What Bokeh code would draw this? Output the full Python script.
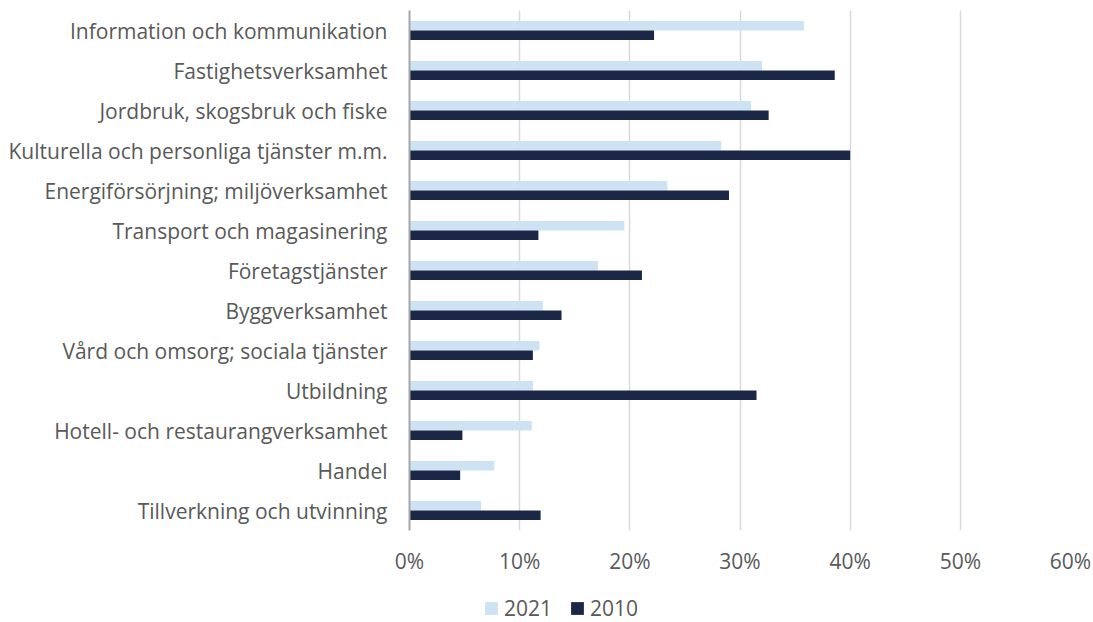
from bokeh.plotting import figure
from bokeh.layouts import column
from bokeh.models import FactorRange, FixedTicker, NumeralTickFormatter, Legend, LegendItem, ColumnDataSource
from bokeh.transform import dodge
from bokeh.embed import file_html
from bokeh.resources import INLINE

categories = [
    "Information och kommunikation",
    "Fastighetsverksamhet",
    "Jordbruk, skogsbruk och fiske",
    "Kulturella och personliga tjänster m.m.",
    "Energiförsörjning; miljöverksamhet",
    "Transport och magasinering",
    "Företagstjänster",
    "Byggverksamhet",
    "Vård och omsorg; sociala tjänster",
    "Utbildning",
    "Hotell- och restaurangverksamhet",
    "Handel",
    "Tillverkning och utvinning",
]
values_2021 = [0.358, 0.320, 0.310, 0.283, 0.234, 0.195, 0.171, 0.121, 0.118, 0.112, 0.111, 0.077, 0.065]
values_2010 = [0.222, 0.386, 0.326, 0.400, 0.290, 0.117, 0.211, 0.138, 0.112, 0.315, 0.048, 0.046, 0.119]
series_labels = ["2021", "2010"]
x_ticks = [0, 0.1, 0.2, 0.3, 0.4, 0.5, 0.6]

FONT = "Open Sans"
FS = "21px"
TXT = "#595959"
C2021 = "#CDE2F2"
C2010 = "#1B2747"

src = ColumnDataSource(dict(cat=categories, v2021=values_2021, v2010=values_2010))

p = figure(
    width=1093, height=584,
    y_range=FactorRange(*reversed(categories)),
    x_range=(0, 0.6),
    output_backend="svg", toolbar_location=None,
    min_border_left=409, min_border_right=23, min_border_top=10, min_border_bottom=54,
)
p.outline_line_color = None

p.hbar(y=dodge("cat", 0.12, range=p.y_range), left=0, right="v2021", height=0.24,
       source=src, fill_color=C2021, line_color=None)
p.hbar(y=dodge("cat", -0.12, range=p.y_range), left=0, right="v2010", height=0.24,
       source=src, fill_color=C2010, line_color=None)

p.xaxis.ticker = FixedTicker(ticks=x_ticks)
p.xaxis.formatter = NumeralTickFormatter(format="0%")
p.xaxis.axis_line_color = None
p.xaxis.major_tick_line_color = None
p.xaxis.minor_tick_line_color = None
p.xaxis.major_label_text_font = FONT
p.xaxis.major_label_text_font_size = FS
p.xaxis.major_label_text_color = TXT
p.xaxis.major_label_standoff = 10

p.yaxis.axis_line_color = "#A6A6A6"
p.yaxis.axis_line_width = 2
p.yaxis.major_tick_line_color = None
p.yaxis.minor_tick_line_color = None
p.yaxis.major_label_text_font = FONT
p.yaxis.major_label_text_font_size = FS
p.yaxis.major_label_text_color = TXT
p.yaxis.major_label_standoff = 16

p.xgrid.ticker = FixedTicker(ticks=x_ticks)
p.xgrid.grid_line_color = "#D9D9D9"
p.xgrid.grid_line_width = 1.5
p.ygrid.grid_line_color = None

# legend strip below the chart (frame aligned with the main chart's frame)
lg = figure(width=1093, height=38, output_backend="svg", toolbar_location=None,
            x_range=(0, 1), y_range=(0, 1),
            min_border_left=0, min_border_right=0, min_border_top=0, min_border_bottom=0)
lg.axis.visible = False
lg.grid.visible = False
lg.outline_line_color = None
d1 = lg.hbar(y=[-5], right=[-5], height=0.5, fill_color=C2021, line_color=None)
d2 = lg.hbar(y=[-5], right=[-5], height=0.5, fill_color=C2010, line_color=None)
legend = Legend(
    items=[LegendItem(label=series_labels[0], renderers=[d1]),
           LegendItem(label=series_labels[1], renderers=[d2])],
    orientation="horizontal",
    location=(74, 0),
    glyph_width=16, glyph_height=16,
    label_text_font=FONT, label_text_font_size=FS, label_text_color=TXT,
    label_standoff=5, spacing=17, padding=0, margin=0,
    border_line_color=None, background_fill_alpha=0,
)
lg.add_layout(legend, "center")

layout = column(p, lg, spacing=0)
open("out.html", "w").write(file_html(layout, INLINE))
